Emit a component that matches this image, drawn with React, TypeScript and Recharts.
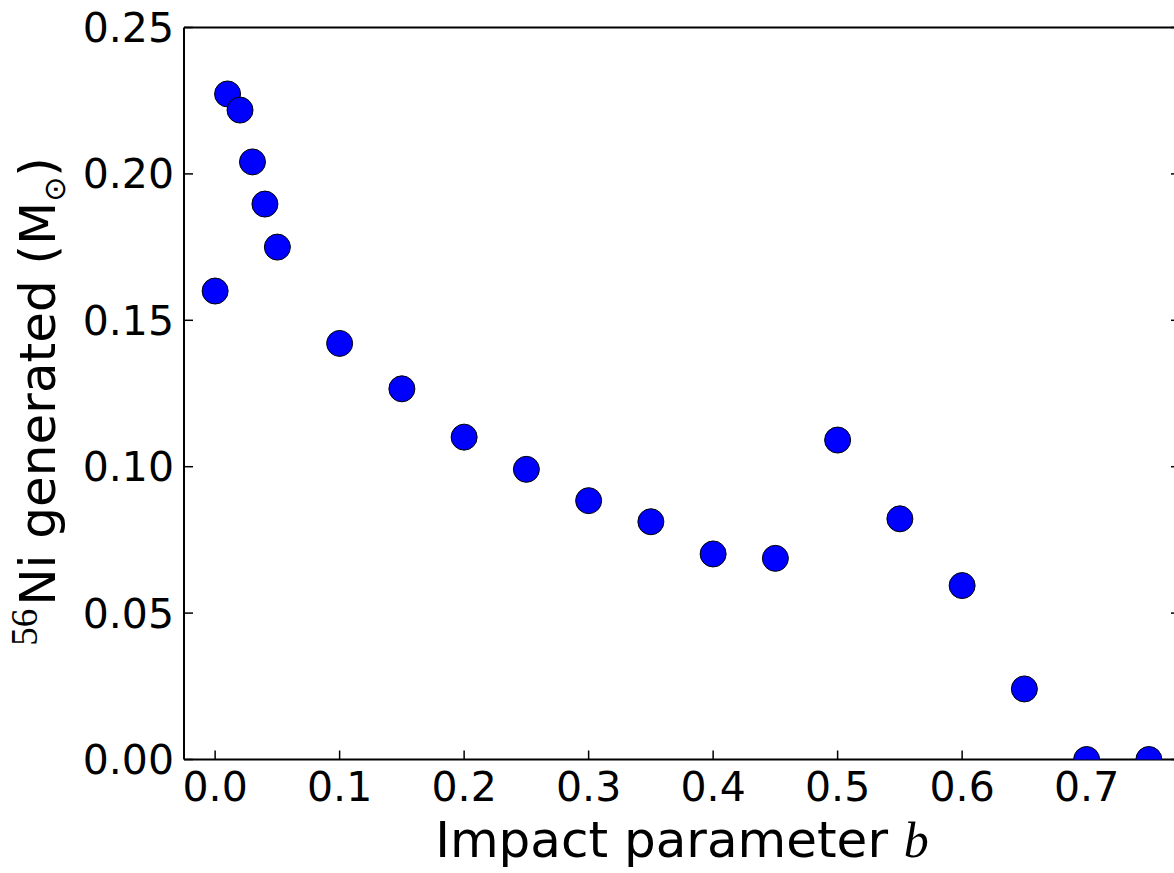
import React from 'react';
import { ScatterChart, Scatter, XAxis, YAxis, Label } from 'recharts';

const impactParameter = [0, 0.01, 0.02, 0.03, 0.04, 0.05, 0.1, 0.15, 0.2, 0.25, 0.3, 0.35, 0.4, 0.45, 0.5, 0.55, 0.6, 0.65, 0.7, 0.75];
const niMass = [0.16, 0.2273, 0.2218, 0.2041, 0.1897, 0.175, 0.1421, 0.1266, 0.1101, 0.0991, 0.0884, 0.0812, 0.0702, 0.0687, 0.1091, 0.0822, 0.0594, 0.0241, 0, 0];
const xTicks = [0, 0.1, 0.2, 0.3, 0.4, 0.5, 0.6, 0.7];
const yTicks = [0, 0.05, 0.1, 0.15, 0.2, 0.25];

const data = impactParameter.map((b, i) => ({ x: b, y: niMass[i] }));

const FONT = "'DejaVu Sans', sans-serif";

const Dot = (props: any) => {
  const { cx, cy } = props;
  if (cx == null || cy == null) return null;
  return <circle cx={cx} cy={cy} r={13} fill="#0000ff" stroke="#000" strokeWidth={1} />;
};

const XLabel = (props: any) => {
  const vb = props.viewBox || {};
  const cx = vb.x + vb.width / 2;
  return (
    <text x={cx} y={vb.y + 97.5} textAnchor="middle" fontFamily={FONT} fontSize={50} fill="#000">
      <tspan>Impact parameter </tspan>
      <tspan fontFamily="'Liberation Serif', 'DejaVu Serif', serif" fontStyle="italic">b</tspan>
    </text>
  );
};

const YLabel = (props: any) => {
  const vb = props.viewBox || {};
  const cy = vb.y + vb.height / 2 + 8;
  const bx = 55;
  return (
    <text
      x={bx}
      y={cy}
      transform={`rotate(-90, ${bx}, ${cy})`}
      textAnchor="middle"
      fontFamily={FONT}
      fontSize={50}
      fill="#000"
    >
      <tspan fontFamily="'Liberation Serif', serif" fontSize={37} dy={-18}>56</tspan>
      <tspan dy={18} dx={3}>Ni generated (M</tspan>
      <tspan fontSize={30} dy={10}>⊙</tspan>
      <tspan dy={-10}>)</tspan>
    </text>
  );
};

const axisLine = { stroke: '#000', strokeWidth: 2 };
const tickLine = { stroke: '#000', strokeWidth: 1.5 };
const tickStyle = { fontSize: 41, fill: '#000', fontFamily: FONT };

export default function App() {
  return (
    <div style={{ position: 'absolute', left: 0, top: 0, width: 1174, height: 873, overflow: 'hidden', background: '#fff' }}>
      <ScatterChart
        width={1200}
        height={873}
        margin={{ top: 26.5, right: 19, bottom: 0, left: 0 }}
        style={{ fontFamily: FONT }}
      >
        <XAxis
          xAxisId="b"
          dataKey="x"
          type="number"
          domain={[-0.025, 0.775]}
          ticks={xTicks}
          interval={0}
          allowDataOverflow
          height={113.5}
          tickSize={-9}
          tickMargin={21}
          tickFormatter={(v: number) => v.toFixed(1)}
          tick={tickStyle}
          axisLine={axisLine}
          tickLine={tickLine}
        >
          <Label content={<XLabel />} />
        </XAxis>
        <XAxis
          xAxisId="top"
          orientation="top"
          type="number"
          domain={[-0.025, 0.775]}
          ticks={xTicks}
          interval={0}
          allowDataOverflow
          height={1}
          tickSize={-9}
          tickMargin={0}
          tickFormatter={() => ''}
          axisLine={axisLine}
          tickLine={tickLine}
        />
        <YAxis
          yAxisId="m"
          dataKey="y"
          type="number"
          domain={[0, 0.25]}
          ticks={yTicks}
          interval={0}
          allowDataOverflow
          width={184}
          tickSize={-9}
          tickMargin={19}
          tickFormatter={(v: number) => v.toFixed(2)}
          tick={tickStyle}
          axisLine={axisLine}
          tickLine={tickLine}
        >
          <Label content={<YLabel />} />
        </YAxis>
        <YAxis
          yAxisId="right"
          orientation="right"
          type="number"
          domain={[0, 0.25]}
          ticks={yTicks}
          interval={0}
          allowDataOverflow
          width={1}
          tickSize={-9}
          tickMargin={0}
          tickFormatter={() => ''}
          axisLine={axisLine}
          tickLine={tickLine}
        />
        <Scatter
          xAxisId="b"
          yAxisId="m"
          data={data}
          shape={<Dot />}
          isAnimationActive={false}
        />
      </ScatterChart>
    </div>
  );
}
